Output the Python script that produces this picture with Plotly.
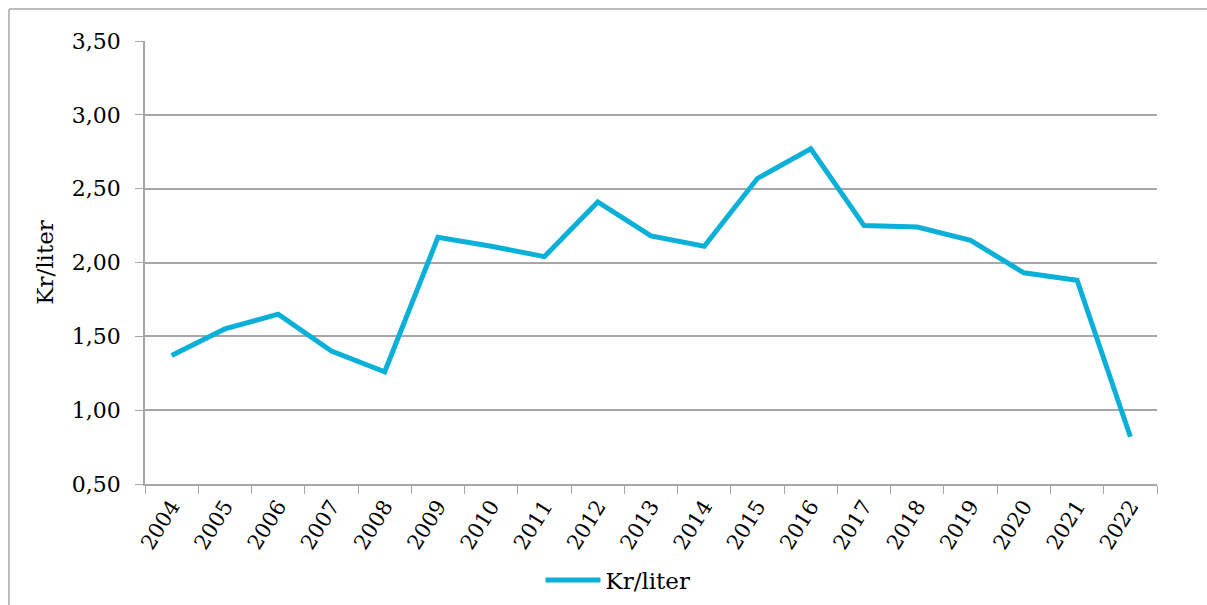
import plotly.graph_objects as go

years = ["2004", "2005", "2006", "2007", "2008", "2009", "2010", "2011", "2012", "2013",
         "2014", "2015", "2016", "2017", "2018", "2019", "2020", "2021", "2022"]
kr_per_liter = [1.37, 1.55, 1.65, 1.40, 1.26, 2.17, 2.11, 2.04, 2.41, 2.18,
                2.11, 2.57, 2.77, 2.25, 2.24, 2.15, 1.93, 1.88, 0.82]
y_ticks = [0.5, 1.0, 1.5, 2.0, 2.5, 3.0, 3.5]
y_tick_labels = ["0,50", "1,00", "1,50", "2,00", "2,50", "3,00", "3,50"]

FONT = "DejaVu Serif, Georgia, serif"
GRID = "#A6A6A6"

fig = go.Figure()
fig.add_trace(go.Scatter(
    x=years, y=kr_per_liter, mode="lines", name="Kr/liter",
    line=dict(color="#0AB0D8", width=5),
))

L, R, T, B = 145, 50, 41, 121
W, H = 1207, 605
pw, ph = W - L - R, H - T - B
bx = (9 - L) / pw
by = 1 + (T - 9) / ph

fig.update_layout(
    width=W, height=H,
    margin=dict(l=L, r=R, t=T, b=B, autoexpand=False),
    paper_bgcolor="white", plot_bgcolor="white",
    font=dict(family=FONT, size=21, color="black"),
    showlegend=True,
    legend=dict(orientation="h", xref="container", yref="container",
                x=0.512, xanchor="center", y=1 - 580 / H, yanchor="middle",
                font=dict(size=23), itemwidth=55),
    xaxis=dict(
        type="category", tickson="boundaries", ticks="outside", ticklen=8,
        tickcolor=GRID, showline=True, linecolor=GRID, linewidth=1.5,
        showgrid=False, tickangle=-58, tickfont=dict(size=21),
        range=[-0.5, len(years) - 0.5], automargin=False,
    ),
    yaxis=dict(
        range=[0.5, 3.5], tickvals=y_ticks, ticktext=y_tick_labels,
        ticks="outside", ticklen=8, tickcolor=GRID, showline=True, linecolor=GRID,
        linewidth=1.5, showgrid=True, gridcolor=GRID, gridwidth=1.5,
        zeroline=False, tickfont=dict(size=22), ticklabelstandoff=10,
        title=dict(text="Kr/liter", font=dict(size=23), standoff=12),
        automargin=False,
    ),
    shapes=[
        dict(type="line", xref="paper", yref="paper", x0=bx, x1=bx, y0=-1, y1=by,
             line=dict(color=GRID, width=1.5)),
        dict(type="line", xref="paper", yref="paper", x0=bx, x1=1.2, y0=by, y1=by,
             line=dict(color=GRID, width=1.5)),
    ],
)

fig.write_html("out.html")
